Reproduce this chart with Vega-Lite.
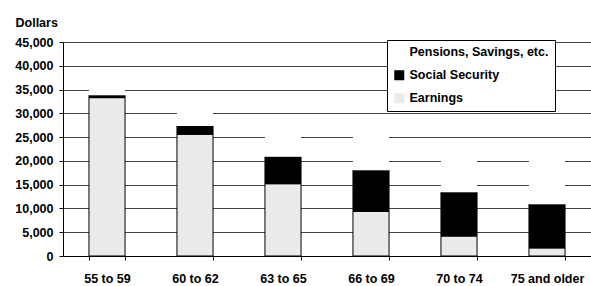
{
  "$schema": "https://vega.github.io/schema/vega-lite/v6.json",
  "width": 528,
  "height": 214,
  "autosize": {"type": "none"},
  "padding": {"left": 63, "top": 42, "right": 0, "bottom": 30},
  "background": "white",
  "config": {
    "view": {"stroke": null},
    "font": "Liberation Sans",
    "axis": {"labelFont": "Liberation Sans", "labelFontWeight": "bold", "labelFontSize": 12.5, "labelColor": "black", "domainColor": "black", "tickColor": "black"}
  },
  "data": {
    "values": [
      {"age": "55 to 59", "source": "Earnings", "amount": 33300},
      {"age": "55 to 59", "source": "Social Security", "amount": 500},
      {"age": "55 to 59", "source": "Pensions, Savings, etc.", "amount": 3700},
      {"age": "60 to 62", "source": "Earnings", "amount": 25600},
      {"age": "60 to 62", "source": "Social Security", "amount": 1750},
      {"age": "60 to 62", "source": "Pensions, Savings, etc.", "amount": 5150},
      {"age": "63 to 65", "source": "Earnings", "amount": 15200},
      {"age": "63 to 65", "source": "Social Security", "amount": 5650},
      {"age": "63 to 65", "source": "Pensions, Savings, etc.", "amount": 6650},
      {"age": "66 to 69", "source": "Earnings", "amount": 9400},
      {"age": "66 to 69", "source": "Social Security", "amount": 8650},
      {"age": "66 to 69", "source": "Pensions, Savings, etc.", "amount": 8950},
      {"age": "70 to 74", "source": "Earnings", "amount": 4200},
      {"age": "70 to 74", "source": "Social Security", "amount": 9200},
      {"age": "70 to 74", "source": "Pensions, Savings, etc.", "amount": 9600},
      {"age": "75 and older", "source": "Earnings", "amount": 1700},
      {"age": "75 and older", "source": "Social Security", "amount": 9200},
      {"age": "75 and older", "source": "Pensions, Savings, etc.", "amount": 10600}
    ]
  },
  "transform": [
    {"calculate": "indexof(['Earnings','Social Security','Pensions, Savings, etc.'], datum.source)", "as": "stackOrder"}
  ],
  "mark": {"type": "bar", "strokeWidth": 1},
  "encoding": {
    "x": {
      "field": "age", "type": "nominal", "sort": null,
      "scale": {"paddingInner": 0.59, "paddingOuter": 0.295},
      "axis": {"title": null, "labelAngle": 0, "tickBand": "extent", "tickSize": 4, "labelPadding": 12, "domainWidth": 1, "grid": false}
    },
    "y": {
      "field": "amount", "type": "quantitative", "stack": "zero",
      "scale": {"domain": [0, 45000], "nice": false},
      "axis": {
        "values": [0, 5000, 10000, 15000, 20000, 25000, 30000, 35000, 40000, 45000],
        "format": ",d", "tickSize": 4, "labelPadding": 6,
        "grid": true, "gridColor": "#444", "gridWidth": 1,
        "title": "Dollars", "titleAngle": 0, "titleX": -48, "titleY": -20,
        "titleAlign": "left", "titleBaseline": "middle",
        "titleFont": "Liberation Sans", "titleFontSize": 12.5, "titleFontWeight": "bold", "titleColor": "black"
      }
    },
    "fill": {
      "field": "source", "type": "nominal",
      "scale": {"domain": ["Pensions, Savings, etc.", "Social Security", "Earnings"], "range": ["white", "black", "#ebebeb"]},
      "legend": {
        "title": null, "orient": "none", "legendX": 324, "legendY": -2,
        "fillColor": "white", "strokeColor": "black", "padding": 6, "rowPadding": 10,
        "symbolType": "square", "symbolSize": 100, "symbolStrokeWidth": 0,
        "labelFont": "Liberation Sans", "labelFontSize": 12.5, "labelFontWeight": "bold", "labelColor": "black", "labelOffset": 4
      }
    },
    "stroke": {
      "field": "source", "type": "nominal",
      "scale": {"domain": ["Pensions, Savings, etc.", "Social Security", "Earnings"], "range": ["transparent", "black", "black"]},
      "legend": null
    },
    "order": {"field": "stackOrder", "type": "quantitative"}
  }
}
